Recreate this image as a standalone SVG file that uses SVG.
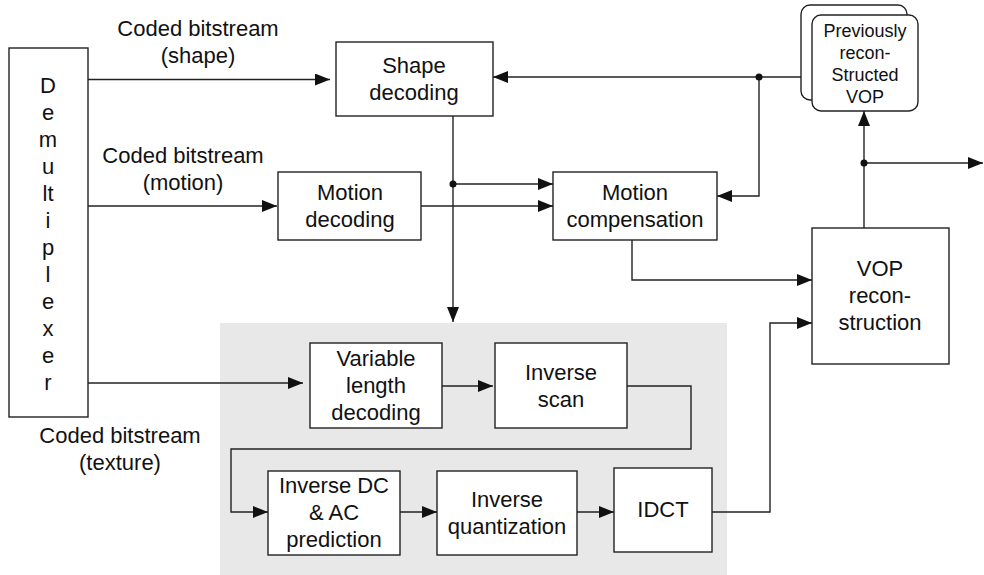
<svg xmlns="http://www.w3.org/2000/svg" width="984" height="575" viewBox="0 0 984 575">
  <style>
    .box { fill: #fff; stroke: #222; stroke-width: 1.4; }
    .ln { fill: none; stroke: #222; stroke-width: 1.4; marker-end: url(#ah); }
    .ln0 { fill: none; stroke: #222; stroke-width: 1.4; }
    text { font-family: "Liberation Sans", Arial, sans-serif; font-size: 22px; fill: #111; text-anchor: middle; }
    .sm { font-size: 18px; }
    .dot { fill: #111; }
  </style>
  <defs>
    <marker id="ah" markerUnits="userSpaceOnUse" markerWidth="16" markerHeight="12" refX="15" refY="6" orient="auto">
      <path d="M0,0 L15,6 L0,12 Z" fill="#111"/>
    </marker>
  </defs>

  <!-- texture decoding panel -->
  <rect x="220" y="323" width="507" height="252" fill="#e8e8e8"/>

  <g id="demux">
    <rect class="box" x="9" y="48" width="79" height="369"/>
    <text x="48" y="93">D</text>
    <text x="48" y="120">e</text>
    <text x="48" y="147">m</text>
    <text x="48" y="174">u</text>
    <text x="48" y="201">lt</text>
    <text x="48" y="228">i</text>
    <text x="48" y="255">p</text>
    <text x="48" y="282">l</text>
    <text x="48" y="309">e</text>
    <text x="48" y="336">x</text>
    <text x="48" y="363">e</text>
    <text x="48" y="390">r</text>
  </g>

  <g id="labels">
    <text x="198" y="36">Coded bitstream</text>
    <text x="198" y="63">(shape)</text>
    <text x="183" y="163">Coded bitstream</text>
    <text x="183" y="190">(motion)</text>
    <text x="120" y="443">Coded bitstream</text>
    <text x="120" y="470">(texture)</text>
  </g>

  <g id="shape-decoding">
    <rect class="box" x="336" y="42" width="157" height="74"/>
    <text x="414" y="73">Shape</text>
    <text x="414" y="100">decoding</text>
  </g>

  <g id="motion-decoding">
    <rect class="box" x="278" y="172" width="143" height="68"/>
    <text x="350" y="200">Motion</text>
    <text x="350" y="227">decoding</text>
  </g>

  <g id="motion-compensation">
    <rect class="box" x="553" y="172" width="164" height="68"/>
    <text x="635" y="200">Motion</text>
    <text x="635" y="227">compensation</text>
  </g>

  <g id="previous-vop">
    <rect class="box" x="801" y="5" width="106" height="95" rx="9"/>
    <rect class="box" x="812" y="15" width="106" height="96" rx="9"/>
    <text class="sm" x="865" y="37">Previously</text>
    <text class="sm" x="865" y="59">recon-</text>
    <text class="sm" x="865" y="81">Structed</text>
    <text class="sm" x="865" y="103">VOP</text>
  </g>

  <g id="vop-reconstruction">
    <rect class="box" x="812" y="228" width="137" height="136"/>
    <text x="880" y="276">VOP</text>
    <text x="880" y="303">recon-</text>
    <text x="880" y="330">struction</text>
  </g>

  <g id="vld">
    <rect class="box" x="310" y="343" width="132" height="85"/>
    <text x="376" y="366">Variable</text>
    <text x="376" y="393">length</text>
    <text x="376" y="420">decoding</text>
  </g>

  <g id="inverse-scan">
    <rect class="box" x="495" y="343" width="132" height="85"/>
    <text x="561" y="380">Inverse</text>
    <text x="561" y="407">scan</text>
  </g>

  <g id="inverse-dc-ac">
    <rect class="box" x="268" y="471" width="132" height="84"/>
    <text x="334" y="493">Inverse DC</text>
    <text x="334" y="520">&amp; AC</text>
    <text x="334" y="547">prediction</text>
  </g>

  <g id="inverse-quantization">
    <rect class="box" x="437" y="471" width="140" height="84"/>
    <text x="507" y="507">Inverse</text>
    <text x="507" y="534">quantization</text>
  </g>

  <g id="idct">
    <rect class="box" x="614" y="468" width="98" height="84"/>
    <text x="663" y="517">IDCT</text>
  </g>

  <g id="connectors">
    <!-- demultiplexer outputs -->
    <path class="ln" d="M88,79.5 H330"/>
    <path class="ln" d="M88,206 H277"/>
    <path class="ln" d="M88,383 H303"/>
    <!-- shape decoding output -->
    <path class="ln" d="M453,116 V322"/>
    <path class="ln" d="M453,184 H553"/>
    <circle class="dot" cx="453" cy="184" r="3.5"/>
    <!-- motion decoding to compensation -->
    <path class="ln" d="M421,206 H553"/>
    <!-- previous VOP feedback -->
    <path class="ln" d="M801,77 H493"/>
    <path class="ln" d="M759,77 V196 H717"/>
    <circle class="dot" cx="759" cy="77" r="3.5"/>
    <!-- motion compensation to reconstruction -->
    <path class="ln" d="M632,240 V280 H812"/>
    <!-- reconstruction outputs -->
    <path class="ln" d="M864,228 V111"/>
    <path class="ln" d="M864,163 H983"/>
    <circle class="dot" cx="864" cy="163" r="3.5"/>
    <!-- texture chain -->
    <path class="ln" d="M442,386 H493"/>
    <path class="ln" d="M627,386 H691 V449 H231 V512 H268"/>
    <path class="ln" d="M400,512 H437"/>
    <path class="ln" d="M577,512 H614"/>
    <path class="ln" d="M712,512 H770 V323 H812"/>
  </g>
</svg>
